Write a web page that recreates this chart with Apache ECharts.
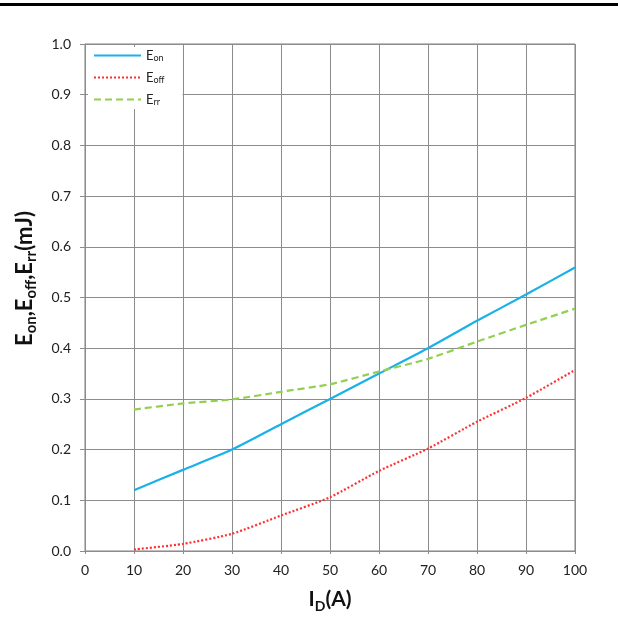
<!DOCTYPE html>
<html>
<head>
<meta charset="utf-8">
<script src="https://cdn.jsdelivr.net/npm/echarts@6/dist/echarts.min.js"></script>
<style>html,body{margin:0;padding:0;background:#fff}#c{width:618px;height:628px}</style>
</head>
<body>
<div id="c"></div>
<script>
const currents = [10, 20, 30, 40, 50, 60, 70, 80, 90, 100];
const eOn  = [0.12, 0.16, 0.20, 0.25, 0.30, 0.35, 0.40, 0.454, 0.506, 0.559];
const eOff = [0.003, 0.014, 0.034, 0.07, 0.106, 0.158, 0.202, 0.255, 0.302, 0.357];
const eRr  = [0.279, 0.291, 0.299, 0.314, 0.329, 0.354, 0.379, 0.413, 0.446, 0.478];
const seriesNames = ['Eon', 'Eoff', 'Err'];
const legendLabels = {Eon: '{m|E}{s|on}', Eoff: '{m|E}{s|off}', Err: '{m|E}{s|rr}'};

const FONT = 'Lato, "Open Sans", sans-serif';
const pairs = ys => currents.map((x, i) => [x, ys[i]]);

const chart = echarts.init(document.getElementById('c'), null, {renderer: 'canvas'});
chart.setOption({
  animation: false,
  backgroundColor: '#fff',
  textStyle: {fontFamily: FONT},
  graphic: [{
    type: 'rect', left: 0, top: 3, shape: {width: 618, height: 3},
    style: {fill: '#000'}, z: 10
  }],
  grid: {left: 85, right: 43, top: 44, bottom: 77, show: true, borderColor: '#7f7f7f', borderWidth: 1, backgroundColor: 'transparent'},
  legend: {
    left: 88, top: 47, orient: 'vertical',
    itemWidth: 47, itemHeight: 10, itemGap: 8,
    backgroundColor: '#fff', padding: [2, 18, 2, 5],
    data: seriesNames,
    itemStyle: {opacity: 0},
    formatter: n => legendLabels[n],
    textStyle: {
      fontFamily: FONT, color: '#222',
      rich: {
        m: {fontSize: 13, fontFamily: FONT, color: '#222'},
        s: {fontSize: 9, fontFamily: FONT, color: '#222', verticalAlign: 'bottom', padding: [6, 0, 0, 0]}
      }
    }
  },
  xAxis: {
    type: 'value', min: 0, max: 100, interval: 10,
    name: '{b|I}{bs|D}{b|(A)}', nameLocation: 'middle', nameGap: 35,
    nameTextStyle: {
      rich: {
        b: {fontSize: 21, fontWeight: 'bold', fontFamily: FONT, color: '#111'},
        bs: {fontSize: 14, fontWeight: 'bold', fontFamily: FONT, color: '#111', verticalAlign: 'bottom', padding: [13, 0, 0, 0]}
      }
    },
    axisLine: {show: true, lineStyle: {color: '#8c8c8c', width: 1}},
    axisTick: {show: true, length: 3, lineStyle: {color: '#8c8c8c'}},
    axisLabel: {fontSize: 14, color: '#222', margin: 12, fontFamily: FONT},
    splitLine: {show: true, lineStyle: {color: '#8c8c8c', width: 1}}
  },
  yAxis: {
    type: 'value', min: 0, max: 1.0, interval: 0.1,
    name: '{b|E}{bs|on}{b|,E}{bs|off}{b|,E}{bs|rr}{b|(mJ)}', nameLocation: 'middle', nameGap: 46, nameRotate: 90,
    nameTextStyle: {
      padding: [0, 0, 0, 38],
      rich: {
        b: {fontSize: 22, fontWeight: 'bold', fontFamily: FONT, color: '#111'},
        bs: {fontSize: 15, fontWeight: 'bold', fontFamily: FONT, color: '#111', verticalAlign: 'bottom', padding: [14, 0, 0, 0]}
      }
    },
    axisLine: {show: true, lineStyle: {color: '#8c8c8c', width: 1}},
    axisTick: {show: true, length: 5, lineStyle: {color: '#8c8c8c'}},
    axisLabel: {fontSize: 14, color: '#222', margin: 14, fontFamily: FONT, formatter: v => v.toFixed(1)},
    splitLine: {show: true, lineStyle: {color: '#8c8c8c', width: 1}}
  },
  series: [
    {name: 'Eon', type: 'line', data: pairs(eOn), smooth: 0.2, symbol: 'none',
     lineStyle: {color: '#1AB0E8', width: 2.2, type: 'solid'}, itemStyle: {color: '#1AB0E8'}},
    {name: 'Eoff', type: 'line', data: pairs(eOff), smooth: 0.2, symbol: 'none',
     lineStyle: {color: '#FF3030', width: 2.2, type: [2, 2]}, itemStyle: {color: '#FF3030'}},
    {name: 'Err', type: 'line', data: pairs(eRr), smooth: 0.2, symbol: 'none',
     lineStyle: {color: '#92D050', width: 2.2, type: [7, 4]}, itemStyle: {color: '#92D050'}}
  ]
});
</script>
</body>
</html>
